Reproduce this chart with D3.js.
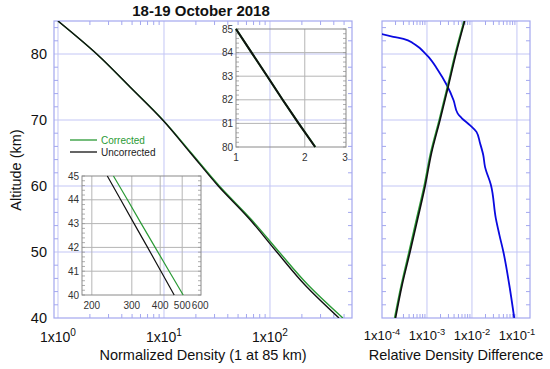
<!DOCTYPE html>
<html lang="en">
<head>
<meta charset="utf-8">
<title>18-19 October 2018</title>
<script src="https://cdn.jsdelivr.net/npm/d3@7/dist/d3.min.js"></script>
<style>
  * { margin: 0; padding: 0; }
  body { background: #fff; font-family: "Liberation Sans", Arial, sans-serif; }
  svg { display: block; }
</style>
</head>
<body>
<svg id="chart" width="550" height="369"></svg>
<script>
// main profile (normalized density, 1 at 85 km)
const altitude = [85, 80, 75, 70, 65, 60, 55, 50, 45, 40]
const uncorrected = [1.0, 2.32, 4.78, 9.72, 17.8, 32.5, 64, 116, 214, 448]
const corrected = [1.0, 2.32, 4.79, 9.78, 18.1, 33.3, 66, 122, 229, 487]

// upper zoom (80-85 km)
const topAlt = [85, 84, 83, 82, 81, 80]
const topUncorr = [1.0, 1.17, 1.37, 1.60, 1.88, 2.22]
const topCorr = [1.0, 1.17, 1.37, 1.60, 1.88, 2.225]

// lower zoom (40-45 km)
const lowAlt = [45, 44, 43, 42, 41, 40]
const lowUncorr = [234, 268, 307, 352, 403, 461]
const lowCorr = [249, 287, 330, 380, 438, 505]

// relative density difference
const diffAlt = [85, 80, 75, 70, 65, 60, 55, 50, 45, 40]
const diffBlack = [6.9e-3, 4.4e-3, 2.95e-3, 1.95e-3, 1.26e-3, 9.1e-4, 6.2e-4, 4.2e-4, 2.8e-4, 2.0e-4]
const diffGreen = [6.7e-3, 4.25e-3, 2.85e-3, 1.88e-3, 1.21e-3, 8.7e-4, 5.9e-4, 4.0e-4, 2.7e-4, 1.92e-4]
const blueAlt = [83.1, 82.6, 82.3, 81.6, 80.9, 80.1, 79.6, 77.7, 75.3, 73.0, 71.0, 70.3, 69.2, 68.2, 66.5, 64.7, 62.9, 60.2, 55.1, 52.6, 50.0, 45.0, 40.0]
const blueDiff = [8.9e-5, 1.78e-4, 3.0e-4, 5.0e-4, 6.9e-4, 9.1e-4, 1.07e-3, 1.7e-3, 2.75e-3, 3.9e-3, 4.8e-3, 5.9e-3, 9.1e-3, 1.26e-2, 1.51e-2, 1.78e-2, 1.95e-2, 2.63e-2, 3.39e-2, 4.07e-2, 5.0e-2, 6.76e-2, 8.7e-2]

const mainYTicks = [40, 50, 60, 70, 80]
const mainXTicks = [1, 10, 100]
const mainXExp = ['0', '1', '2']
const diffXTicks = [1e-4, 1e-3, 1e-2, 1e-1]
const diffXExp = ['-4', '-3', '-2', '-1']
const topYTicks = [80, 81, 82, 83, 84, 85]
const topXTicks = [1, 2, 3]
const lowYTicks = [40, 41, 42, 43, 44, 45]
const lowXTicks = [200, 300, 400, 500, 600]

const GREEN = '#2a9a35'
const BLUE = '#0a0ae0'
const FRAME = '#a3a7ef'
const GRID = '#c3c6f5'

const svg = d3.select('#chart')

const zip = (ys, xs) => ys.map((y, i) => ({ alt: y, v: xs[i] }))

function superLabel(sel, exp, size) {
  sel.append('tspan').text('1x10')
  sel.append('tspan').attr('dy', -size * 0.42).attr('font-size', size * 0.72).text(exp)
}

// frame, grid and inward minor ticks for one of the two big panels
function bigPanel(x, y, id) {
  const [x0, x1] = x.range()
  const [y0, y1] = y.range()
  const g = svg.append('g')
  g.append('clipPath').attr('id', id).append('rect')
    .attr('x', x0).attr('y', y1).attr('width', x1 - x0).attr('height', y0 - y1)

  const majors = x.ticks().filter(t => Math.abs(Math.log10(t) - Math.round(Math.log10(t))) < 1e-9)
  g.selectAll('.vg').data(majors.filter(t => x(t) > x0 + 1 && x(t) < x1 - 1)).join('line')
    .attr('x1', d => x(d)).attr('x2', d => x(d)).attr('y1', y1).attr('y2', y0)
    .attr('stroke', GRID).attr('stroke-width', 1)
  g.selectAll('.hg').data(mainYTicks.filter(t => y(t) < y0 - 1)).join('line')
    .attr('y1', d => y(d)).attr('y2', d => y(d)).attr('x1', x0).attr('x2', x1)
    .attr('stroke', GRID).attr('stroke-width', 1)

  const minorX = x.ticks().filter(t => !majors.includes(t))
  for (const [yy, dir] of [[y0, -1], [y1, 1]]) {
    g.selectAll(null).data(minorX).join('line')
      .attr('x1', d => x(d)).attr('x2', d => x(d)).attr('y1', yy).attr('y2', yy + dir * 4)
      .attr('stroke', FRAME)
  }
  const minorY = d3.range(42, 85, 2).filter(v => v % 10 !== 0)
  for (const [xx, dir] of [[x0, 1], [x1, -1]]) {
    g.selectAll(null).data(minorY).join('line')
      .attr('y1', d => y(d)).attr('y2', d => y(d)).attr('x1', xx).attr('x2', xx + dir * 4)
      .attr('stroke', FRAME)
  }
  g.append('rect').attr('x', x0).attr('y', y1).attr('width', x1 - x0).attr('height', y0 - y1)
    .attr('fill', 'none').attr('stroke', FRAME).attr('stroke-width', 1.2)
  return g
}

// small inset with gray frame and grid, transparent background
function inset(x, y, yTicks, xTicks, xLabels) {
  const [x0, x1] = x.range()
  const [y0, y1] = y.range()
  const g = svg.append('g')
  g.selectAll(null).data(yTicks.filter(t => y(t) < y0 - 1 && y(t) > y1 + 1)).join('line')
    .attr('y1', d => y(d)).attr('y2', d => y(d)).attr('x1', x0).attr('x2', x1)
    .attr('stroke', '#b5b5b5').attr('stroke-width', 1)
  g.selectAll(null).data(xTicks.filter(t => x(t) > x0 + 1 && x(t) < x1 - 1)).join('line')
    .attr('x1', d => x(d)).attr('x2', d => x(d)).attr('y1', y1).attr('y2', y0)
    .attr('stroke', '#b5b5b5').attr('stroke-width', 1)
  const step = 0.2
  const minorY = d3.range(y.domain()[0], y.domain()[1] + 1e-9, step)
  for (const [xx, dir] of [[x0, 1], [x1, -1]]) {
    g.selectAll(null).data(minorY).join('line')
      .attr('y1', d => y(d)).attr('y2', d => y(d)).attr('x1', xx).attr('x2', xx + dir * 3)
      .attr('stroke', '#999').attr('stroke-width', 0.8)
  }
  g.append('rect').attr('x', x0).attr('y', y1).attr('width', x1 - x0).attr('height', y0 - y1)
    .attr('fill', 'none').attr('stroke', '#8a8a8a').attr('stroke-width', 1)
  g.selectAll(null).data(yTicks).join('text')
    .attr('x', x0 - 3).attr('y', d => y(d) + 3.5).attr('text-anchor', 'end')
    .attr('font-size', 10).attr('fill', '#333').text(d => d)
  g.selectAll(null).data(xTicks).join('text')
    .attr('x', d => x(d)).attr('y', y0 + 14).attr('text-anchor', 'middle')
    .attr('font-size', 10).attr('fill', '#333').text((d, i) => xLabels[i])
  return g
}

// ---- main panel ----
const x = d3.scaleLog().domain([0.917, 594]).range([54, 352])
const y = d3.scaleLinear().domain([40, 85]).range([318, 21])
bigPanel(x, y, 'clipMain')

const line = d3.line().x(d => x(d.v)).y(d => y(d.alt)).curve(d3.curveMonotoneY)
const mainG = svg.append('g').attr('clip-path', 'url(#clipMain)')
mainG.append('path').datum(zip(altitude, corrected)).attr('d', line)
  .attr('fill', 'none').attr('stroke', GREEN).attr('stroke-width', 1.4)
mainG.append('path').datum(zip(altitude, uncorrected)).attr('d', line)
  .attr('fill', 'none').attr('stroke', '#111').attr('stroke-width', 1.4)

svg.selectAll('.ylab').data(mainYTicks).join('text')
  .attr('x', 47).attr('y', d => y(d) + 5).attr('text-anchor', 'end')
  .attr('font-size', 14.5).attr('fill', '#111').text(d => d)
svg.selectAll('.xlab').data(mainXTicks).join('text')
  .attr('x', d => x(d)).attr('y', 342).attr('text-anchor', 'middle')
  .attr('font-size', 14).attr('fill', '#111')
  .each(function (d, i) { superLabel(d3.select(this), mainXExp[i], 14) })

svg.append('text').attr('x', 203).attr('y', 360).attr('text-anchor', 'middle')
  .attr('font-size', 14.5).attr('fill', '#111').text('Normalized Density (1 at 85 km)')
svg.append('text').attr('transform', 'translate(21,170) rotate(-90)').attr('text-anchor', 'middle')
  .attr('font-size', 14.5).attr('fill', '#111').text('Altitude (km)')
svg.append('text').attr('x', 201).attr('y', 16).attr('text-anchor', 'middle')
  .attr('font-size', 15).attr('font-weight', 'bold').attr('fill', '#111').text('18-19 October 2018')

// legend
const legend = [['Corrected', GREEN, GREEN], ['Uncorrected', '#111', '#222']]
legend.forEach(([name, col, txt], i) => {
  const ly = 140 + i * 12
  svg.append('line').attr('x1', 70).attr('x2', 97).attr('y1', ly).attr('y2', ly)
    .attr('stroke', col).attr('stroke-width', 1.3)
  svg.append('text').attr('x', 101).attr('y', ly + 3.5).attr('font-size', 10)
    .attr('fill', txt).text(name)
})

// ---- upper inset ----
const tx = d3.scaleLog().domain([1, 3.03]).range([236, 346])
const ty = d3.scaleLinear().domain([80, 85]).range([147, 29])
inset(tx, ty, topYTicks, topXTicks, topXTicks)
const tline = d3.line().x(d => tx(d.v)).y(d => ty(d.alt))
svg.append('path').datum(zip(topAlt, topCorr)).attr('d', tline)
  .attr('fill', 'none').attr('stroke', GREEN).attr('stroke-width', 2)
svg.append('path').datum(zip(topAlt, topUncorr)).attr('d', tline)
  .attr('fill', 'none').attr('stroke', '#111').attr('stroke-width', 2)

// ---- lower inset ----
const lx = d3.scaleLog().domain([181, 605]).range([82, 201])
const ly = d3.scaleLinear().domain([40, 45]).range([295, 176])
inset(lx, ly, lowYTicks, lowXTicks, lowXTicks)
const lline = d3.line().x(d => lx(d.v)).y(d => ly(d.alt))
svg.append('path').datum(zip(lowAlt, lowCorr)).attr('d', lline)
  .attr('fill', 'none').attr('stroke', GREEN).attr('stroke-width', 1.2)
svg.append('path').datum(zip(lowAlt, lowUncorr)).attr('d', lline)
  .attr('fill', 'none').attr('stroke', '#111').attr('stroke-width', 1.2)

// ---- relative difference panel ----
const rx = d3.scaleLog().domain([1e-4, 0.195]).range([382, 530])
const ry = d3.scaleLinear().domain([40, 85]).range([318, 21])
bigPanel(rx, ry, 'clipDiff')
const rline = d3.line().x(d => rx(d.v)).y(d => ry(d.alt)).curve(d3.curveMonotoneY)
const diffG = svg.append('g').attr('clip-path', 'url(#clipDiff)')
diffG.append('path').datum(zip(blueAlt, blueDiff)).attr('d', rline)
  .attr('fill', 'none').attr('stroke', BLUE).attr('stroke-width', 1.8)
diffG.append('path').datum(zip(diffAlt, diffGreen)).attr('d', rline)
  .attr('fill', 'none').attr('stroke', GREEN).attr('stroke-width', 1.8)
diffG.append('path').datum(zip(diffAlt, diffBlack)).attr('d', rline)
  .attr('fill', 'none').attr('stroke', '#111').attr('stroke-width', 1.6)

svg.selectAll('.rxlab').data(diffXTicks).join('text')
  .attr('x', d => rx(d)).attr('y', 340).attr('text-anchor', 'middle')
  .attr('font-size', 13).attr('fill', '#111')
  .each(function (d, i) { superLabel(d3.select(this), diffXExp[i], 13) })
svg.append('text').attr('x', 456).attr('y', 360).attr('text-anchor', 'middle')
  .attr('font-size', 14.5).attr('fill', '#111').text('Relative Density Difference')
</script>
</body>
</html>
